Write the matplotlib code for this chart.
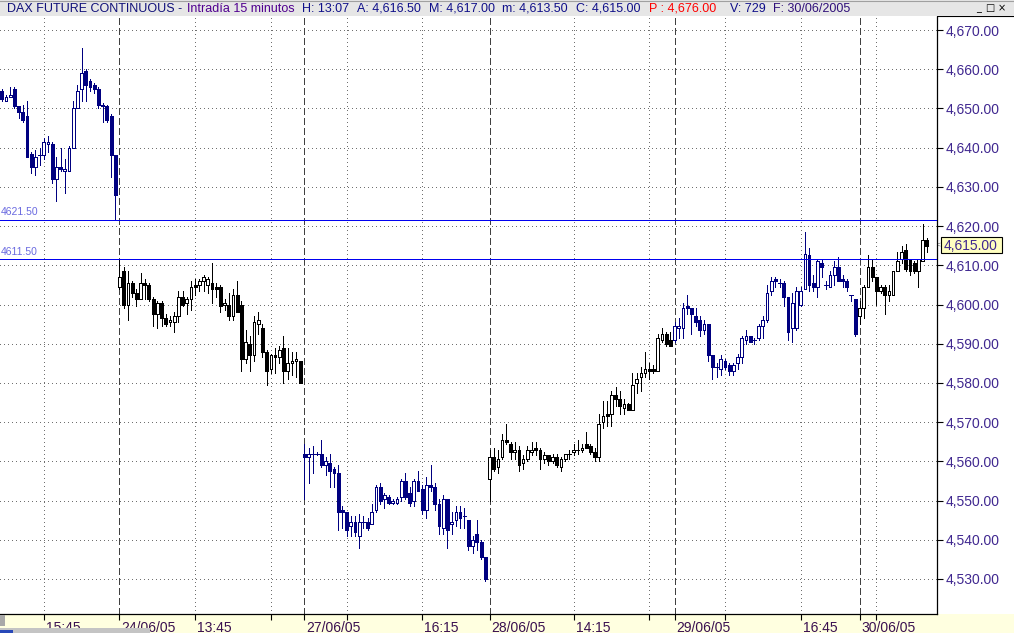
import numpy as np
import matplotlib.pyplot as plt
from matplotlib.patches import Rectangle
from matplotlib import transforms

plt.rcParams['font.family'] = ['Liberation Sans', 'DejaVu Sans']
plt.rcParams['lines.scale_dashes'] = False

# 15 minute bars (open, high, low, close), one list per session
bars_2306 = [
    (4654.5, 4655.0, 4652.0, 4652.5), (4652.0, 4653.5, 4652.0, 4653.0), (4653.0, 4655.5, 4653.0, 4653.5),
    (4655.0, 4655.5, 4650.0, 4650.5), (4650.5, 4650.5, 4647.5, 4649.0), (4649.0, 4651.0, 4646.5, 4647.0),
    (4648.0, 4652.0, 4637.5, 4637.5), (4638.5, 4639.0, 4633.5, 4635.0), (4635.0, 4639.5, 4633.0, 4637.5),
    (4638.0, 4640.0, 4635.5, 4638.0), (4638.0, 4642.5, 4637.0, 4641.5), (4641.0, 4643.0, 4639.0, 4641.5),
    (4641.0, 4641.5, 4631.0, 4632.0), (4632.0, 4637.5, 4626.5, 4635.0), (4635.0, 4640.0, 4634.0, 4634.5),
    (4634.0, 4637.0, 4628.5, 4634.5), (4634.0, 4640.5, 4634.0, 4640.0), (4640.0, 4652.0, 4640.0, 4650.0),
    (4650.0, 4656.0, 4650.0, 4654.5), (4655.0, 4665.5, 4652.0, 4659.0), (4659.5, 4660.0, 4652.0, 4656.0),
    (4657.0, 4657.5, 4654.5, 4655.5), (4656.0, 4656.5, 4654.0, 4655.0), (4655.0, 4655.5, 4650.0, 4651.0),
    (4651.0, 4651.5, 4646.5, 4650.5), (4650.5, 4651.0, 4646.5, 4647.0), (4648.0, 4648.5, 4632.5, 4638.0),
    (4638.0, 4638.0, 4621.5, 4628.0),
]
bars_2406 = [
    (4604.5, 4611.5, 4604.0, 4607.0), (4608.5, 4609.5, 4599.0, 4600.0), (4600.0, 4608.5, 4596.0, 4605.5),
    (4605.5, 4606.0, 4602.0, 4603.0), (4603.0, 4604.0, 4599.5, 4601.5), (4601.5, 4608.0, 4601.5, 4605.5),
    (4605.5, 4606.5, 4601.5, 4605.0), (4605.0, 4605.5, 4601.0, 4601.5), (4601.5, 4602.0, 4594.5, 4597.5),
    (4597.5, 4601.0, 4594.0, 4600.5), (4600.5, 4601.0, 4594.5, 4596.5), (4596.5, 4597.5, 4594.5, 4595.0),
    (4595.5, 4597.0, 4594.5, 4596.0), (4595.5, 4598.0, 4593.0, 4597.0), (4597.0, 4603.5, 4595.5, 4602.0),
    (4602.0, 4603.5, 4599.5, 4600.0), (4600.5, 4602.0, 4597.5, 4601.5), (4601.5, 4606.0, 4598.5, 4604.5),
    (4605.0, 4606.5, 4602.5, 4604.5), (4605.0, 4606.5, 4603.5, 4606.0), (4606.0, 4607.5, 4603.5, 4607.0),
    (4605.0, 4607.0, 4603.0, 4606.5), (4605.5, 4610.5, 4600.5, 4604.0), (4604.5, 4605.5, 4602.0, 4604.0),
    (4604.5, 4605.0, 4598.0, 4599.5), (4600.0, 4601.5, 4598.5, 4600.5), (4600.0, 4603.0, 4596.0, 4597.0),
    (4597.0, 4604.0, 4596.0, 4602.5), (4602.5, 4606.0, 4598.0, 4598.0), (4600.0, 4601.0, 4583.0, 4586.0),
    (4586.0, 4593.5, 4585.0, 4590.5), (4590.0, 4592.0, 4583.0, 4587.0), (4587.0, 4597.0, 4585.5, 4595.5),
    (4595.0, 4598.0, 4592.5, 4596.0), (4594.0, 4595.0, 4586.5, 4588.0), (4588.0, 4588.5, 4579.5, 4583.0),
    (4583.5, 4587.5, 4582.5, 4587.0), (4587.0, 4589.0, 4582.5, 4586.5), (4586.5, 4589.5, 4585.0, 4588.5),
    (4589.0, 4592.0, 4580.0, 4583.0), (4583.0, 4589.0, 4581.0, 4585.0), (4585.0, 4588.0, 4582.0, 4585.5),
    (4585.5, 4588.0, 4581.5, 4586.0), (4585.5, 4585.5, 4580.0, 4580.0),
]
bars_2706 = [
    (4562.0, 4564.5, 4550.5, 4561.0), (4561.0, 4563.5, 4554.5, 4562.0), (4562.0, 4564.0, 4557.0, 4562.0),
    (4562.0, 4562.5, 4561.5, 4562.0), (4562.0, 4565.5, 4558.5, 4559.0), (4559.0, 4561.0, 4556.5, 4560.0),
    (4559.5, 4562.0, 4553.5, 4557.5), (4558.0, 4558.5, 4553.5, 4557.0), (4557.0, 4559.0, 4542.5, 4547.0),
    (4547.5, 4548.5, 4543.0, 4547.0), (4547.0, 4547.0, 4541.0, 4542.5), (4543.5, 4546.0, 4541.0, 4544.5),
    (4544.5, 4546.0, 4541.0, 4542.0), (4541.0, 4546.5, 4538.0, 4544.5), (4544.5, 4546.0, 4543.0, 4544.5),
    (4544.5, 4545.5, 4542.5, 4543.0), (4544.0, 4549.0, 4544.0, 4547.0), (4547.5, 4554.0, 4547.0, 4553.5),
    (4553.5, 4554.5, 4549.0, 4550.0), (4550.5, 4552.0, 4548.0, 4551.5), (4551.0, 4551.5, 4549.0, 4549.5),
    (4549.5, 4550.5, 4549.0, 4550.0), (4549.5, 4551.0, 4549.0, 4550.5), (4551.0, 4555.5, 4550.0, 4555.0),
    (4555.0, 4557.0, 4550.5, 4551.0), (4552.0, 4553.5, 4548.5, 4549.5), (4550.0, 4555.5, 4548.5, 4555.0),
    (4555.0, 4557.5, 4552.5, 4552.5), (4553.0, 4554.0, 4546.5, 4547.5), (4547.5, 4556.0, 4545.5, 4554.0),
    (4554.0, 4559.0, 4552.5, 4553.5), (4553.5, 4554.5, 4547.5, 4549.0), (4549.0, 4550.5, 4541.5, 4543.5),
    (4543.0, 4551.5, 4541.5, 4550.5), (4550.5, 4550.5, 4538.0, 4542.5), (4544.0, 4547.0, 4541.5, 4544.5),
    (4545.0, 4548.5, 4543.5, 4547.0), (4547.0, 4548.5, 4543.0, 4545.5), (4546.0, 4548.0, 4543.0, 4546.0),
    (4545.0, 4545.0, 4537.5, 4538.5), (4538.5, 4541.0, 4536.5, 4540.0), (4541.5, 4545.0, 4537.5, 4539.5),
    (4539.5, 4540.0, 4535.0, 4535.5), (4535.5, 4535.5, 4529.5, 4530.0),
]
bars_2806 = [
    (4555.5, 4563.0, 4550.0, 4561.0), (4561.0, 4563.5, 4557.5, 4558.0), (4558.5, 4563.0, 4557.0, 4560.5),
    (4561.0, 4567.0, 4560.5, 4565.5), (4565.5, 4569.5, 4564.5, 4565.0), (4564.5, 4565.0, 4560.5, 4562.5),
    (4562.5, 4565.0, 4560.5, 4563.0), (4563.0, 4564.0, 4557.5, 4559.0), (4559.5, 4561.5, 4558.0, 4560.5),
    (4560.5, 4564.0, 4560.0, 4563.0), (4562.5, 4565.0, 4561.5, 4563.0), (4563.5, 4565.0, 4561.5, 4563.0),
    (4563.0, 4563.5, 4558.0, 4560.5), (4560.5, 4562.5, 4559.5, 4561.5), (4561.5, 4561.5, 4559.0, 4560.0),
    (4560.0, 4562.0, 4559.5, 4561.0), (4561.0, 4562.0, 4558.5, 4559.0), (4558.5, 4561.0, 4557.5, 4560.5),
    (4560.5, 4562.0, 4560.0, 4562.0), (4562.0, 4563.0, 4560.5, 4562.0), (4562.5, 4564.5, 4561.5, 4563.0),
    (4563.0, 4565.5, 4562.0, 4563.0), (4563.0, 4564.5, 4562.5, 4563.5), (4564.5, 4567.5, 4563.5, 4563.5),
    (4564.0, 4564.5, 4562.0, 4562.5), (4562.5, 4563.5, 4560.0, 4561.0), (4561.0, 4572.0, 4560.0, 4569.5),
    (4570.0, 4575.5, 4568.5, 4571.5), (4572.0, 4575.5, 4569.0, 4571.5), (4572.0, 4578.0, 4569.0, 4577.0),
    (4577.0, 4579.0, 4574.0, 4576.0), (4576.0, 4578.0, 4572.0, 4574.0), (4573.5, 4576.0, 4572.0, 4574.5),
    (4574.5, 4575.0, 4573.0, 4573.0), (4573.0, 4582.5, 4573.0, 4579.5), (4580.0, 4582.5, 4577.5, 4581.0),
    (4581.5, 4584.0, 4578.0, 4582.5), (4582.5, 4588.0, 4581.5, 4583.5), (4583.5, 4585.0, 4581.0, 4583.0),
    (4583.5, 4584.5, 4582.5, 4583.0), (4583.0, 4592.5, 4583.0, 4591.5), (4591.0, 4594.0, 4590.5, 4592.5),
    (4592.5, 4593.0, 4589.5, 4590.0), (4591.0, 4593.0, 4589.5, 4589.5),
]
bars_2906 = [
    (4591.0, 4595.5, 4590.5, 4594.5), (4594.0, 4596.5, 4591.5, 4594.5), (4594.0, 4600.5, 4591.5, 4599.0),
    (4599.5, 4602.5, 4597.5, 4599.0), (4599.0, 4599.0, 4592.5, 4597.5), (4597.0, 4599.0, 4594.5, 4595.5),
    (4596.0, 4597.0, 4592.0, 4593.5), (4593.5, 4596.0, 4592.5, 4595.0), (4595.0, 4595.0, 4585.5, 4587.0),
    (4587.0, 4587.0, 4581.0, 4584.0), (4584.0, 4585.0, 4581.5, 4584.0), (4583.5, 4587.0, 4582.0, 4586.0),
    (4585.5, 4586.0, 4583.5, 4584.0), (4584.5, 4585.0, 4582.0, 4583.0), (4583.0, 4585.0, 4582.0, 4584.5),
    (4585.0, 4587.5, 4583.5, 4586.5), (4586.5, 4592.0, 4585.0, 4591.5), (4591.0, 4593.5, 4590.0, 4592.0),
    (4592.0, 4592.0, 4590.5, 4590.5), (4591.0, 4591.5, 4590.0, 4591.0), (4591.5, 4595.0, 4591.0, 4594.5),
    (4594.5, 4597.0, 4591.5, 4596.0), (4596.0, 4605.0, 4595.5, 4603.0), (4603.5, 4607.0, 4602.5, 4606.0),
    (4606.5, 4607.0, 4604.5, 4606.0), (4605.5, 4606.5, 4604.5, 4605.5), (4605.5, 4606.0, 4599.5, 4602.0),
    (4602.0, 4602.0, 4591.0, 4593.0), (4594.0, 4603.0, 4590.5, 4600.5), (4594.0, 4604.5, 4593.5, 4603.5),
    (4600.0, 4604.5, 4599.5, 4603.5), (4604.0, 4618.5, 4604.0, 4613.0), (4612.5, 4614.5, 4603.5, 4605.0),
    (4605.5, 4607.5, 4603.5, 4604.5), (4604.5, 4611.5, 4602.0, 4611.0), (4610.5, 4611.5, 4607.0, 4609.5),
    (4605.0, 4606.0, 4604.0, 4605.0), (4604.5, 4608.5, 4604.5, 4607.5), (4607.5, 4611.0, 4605.0, 4609.5),
    (4609.5, 4612.0, 4606.0, 4606.0), (4606.5, 4607.5, 4604.5, 4606.0), (4606.0, 4606.5, 4603.5, 4604.5),
    (4602.5, 4602.5, 4601.0, 4602.5), (4601.5, 4601.5, 4592.0, 4592.5),
]
bars_3006 = [
    (4597.0, 4601.0, 4595.0, 4599.0), (4599.0, 4605.0, 4596.5, 4604.5), (4604.5, 4612.5, 4604.5, 4609.5),
    (4609.5, 4611.5, 4606.0, 4607.0), (4607.0, 4607.0, 4600.0, 4603.5), (4603.5, 4605.0, 4603.0, 4604.5),
    (4604.5, 4605.0, 4597.5, 4602.5), (4602.5, 4605.0, 4601.0, 4603.5), (4602.5, 4608.5, 4602.5, 4608.5),
    (4608.5, 4613.5, 4608.5, 4611.0), (4611.5, 4615.0, 4610.5, 4613.5), (4614.0, 4615.5, 4608.5, 4609.0),
    (4611.5, 4611.5, 4607.5, 4608.5), (4610.5, 4611.0, 4608.0, 4608.5), (4608.5, 4611.5, 4604.5, 4611.5),
    (4611.0, 4620.5, 4611.0, 4616.5), (4616.5, 4617.0, 4613.5, 4615.0),
]

sessions = [bars_2306, bars_2406, bars_2706, bars_2806, bars_2906, bars_3006]
session_colors = ['#000080', '#000000', '#000080', '#000000', '#000080', '#000000']
day_labels = ['24/06/05', '27/06/05', '28/06/05', '29/06/05', '30/06/05']

time_ticks = [10, 46, 64, 82, 100, 136, 154, 172, 190, 208]
time_labels = ['15:45', '13:45', '', '', '16:15', '14:15', '', '', '16:45', '']
price_ticks = np.arange(4530, 4671, 10)
ref_levels = [4621.5, 4611.5]
last_price = 4615.0

W, H = 1014, 633
fig = plt.figure(figsize=(W / 100, H / 100), dpi=100)
fig.patch.set_facecolor('white')

# background layer (pixel coordinates)
bg = fig.add_axes([0, 0, 1, 1])
bg.set_xlim(0, W)
bg.set_ylim(H, 0)
bg.axis('off')
bg.add_patch(Rectangle((0, 614), W, 19, facecolor='#FFFFE0', edgecolor='none'))
bg.plot([937, W], [15.5, 15.5], color='black', lw=0.8)
# last price box
bg.add_patch(Rectangle((940.5, 237), 61, 16, facecolor='#FFFFC0', edgecolor='black', lw=0.8))
bg.text(971, 245.5, f'{last_price:,.2f}', ha='center', va='center', fontsize=10, color='#402890')
bg.text(938.5, 245, '<', ha='center', va='center', fontsize=6, color='#606060')

# main chart
ax = fig.add_axes([0, 1 - 614 / H, 937 / W, (614 - 17) / H])
ax.set_facecolor('white')

day_starts = np.cumsum([len(s) for s in sessions])[:-1]

px = 0.72  # one pixel in points
i = 0
for bars, col in zip(sessions, session_colors):
    for o, h, l, c in bars:
        ax.vlines(i, l, h, color=col, lw=px, zorder=3, antialiased=False)
        if c > o:
            ax.add_patch(Rectangle((i - 0.32, o), 0.64, c - o, facecolor='white',
                                   edgecolor=col, lw=px, zorder=4, antialiased=False))
        elif c < o:
            ax.add_patch(Rectangle((i - 0.34, c), 0.68, o - c, facecolor=col,
                                   edgecolor=col, lw=px, zorder=4, antialiased=False))
        else:
            ax.hlines(o, i - 0.4, i + 0.4, color=col, lw=px, zorder=4, antialiased=False)
        i += 1

# grid
dots = (0, (px, 3 * px))
for p in price_ticks:
    ax.axhline(p, color='#707070', lw=px, ls=dots, zorder=1, antialiased=False)
for t in time_ticks:
    ax.axvline(t, color='#707070', lw=px, ls=dots, zorder=1, antialiased=False)
for d in day_starts:
    ax.axvline(d, color='#404040', lw=px, ls=(0, (6 * px, 3 * px)), zorder=1, antialiased=False)

# reference levels
for lvl in ref_levels:
    ax.axhline(lvl, color='#0000F0', lw=px, zorder=5, antialiased=False)
    ax.text(-0.25, lvl + 2.0, f'{lvl:.2f}', ha='left', va='center',
            fontsize=7.5, color='#6A6AE0', zorder=6)

ax.set_xlim(-0.42, 222.43)
ax.set_ylim(4521.07, 4673.32)

ax.spines['top'].set_visible(False)
ax.spines['left'].set_visible(False)
ax.spines['right'].set_linewidth(0.9)
ax.spines['bottom'].set_linewidth(0.9)

ax.yaxis.tick_right()
ax.set_yticks(price_ticks)
ax.set_yticklabels([f'{p:,.2f}' for p in price_ticks])
ax.tick_params(axis='y', direction='out', length=4, width=0.8, pad=2,
               labelsize=10, labelcolor='#402890')

xt = sorted(list(time_ticks) + list(day_starts))
ax.set_xticks(xt)
ax.set_xticklabels([])
ax.tick_params(axis='x', direction='out', length=4, width=0.8)
lab_trans = transforms.blended_transform_factory(ax.transData, ax.transAxes) + \
    transforms.ScaledTranslation(0.02, -0.07, fig.dpi_scale_trans)
for t, lab in list(zip(time_ticks, time_labels)) + list(zip(day_starts, day_labels)):
    if lab:
        ax.text(t, 0, lab, transform=lab_trans, ha='left', va='top',
                fontsize=10, color='#3a1050', clip_on=False)

# top layer: title bar and scrollbar
top = fig.add_axes([0, 0, 1, 1])
top.set_xlim(0, W)
top.set_ylim(H, 0)
top.axis('off')
top.patch.set_alpha(0)
top.add_patch(Rectangle((0, 0), W, 16, facecolor='#E6E6E6', edgecolor='none'))
top.plot([0, W], [0.5, 0.5], color='#A0A0A0', lw=0.8)

title_parts = [
    (7, 'DAX FUTURE CONTINUOUS -', '#10107A'),
    (187, 'Intradía 15 minutos', '#500090'),
    (302, 'H: 13:07', '#10108A'),
    (357, 'A: 4,616.50', '#10108A'),
    (429, 'M: 4,617.00', '#10108A'),
    (502, 'm: 4,613.50', '#10108A'),
    (576, 'C: 4,615.00', '#10108A'),
    (649, 'P : 4,676.00', '#FF0000'),
    (730, 'V: 729', '#10108A'),
    (773, 'F: 30/06/2005', '#30107A'),
]
for x, s, col in title_parts:
    top.text(x, 8.5, s, ha='left', va='center', fontsize=9, color=col)

for x, s in [(979, '_'), (990, '□'), (1002, '×')]:
    top.text(x, 8, s, ha='center', va='center', fontsize=7, color='black', family='DejaVu Sans')

top.add_patch(Rectangle((0, 615), 5, 11, facecolor='#A8A8A8', edgecolor='none'))
top.add_patch(Rectangle((0, 628), 150, 5, facecolor='#C4C4C4', edgecolor='none'))
top.add_patch(Rectangle((0, 629.5), 13, 3.5, facecolor='#2848B8', edgecolor='none'))

fig.savefig('out.png', dpi=100)
